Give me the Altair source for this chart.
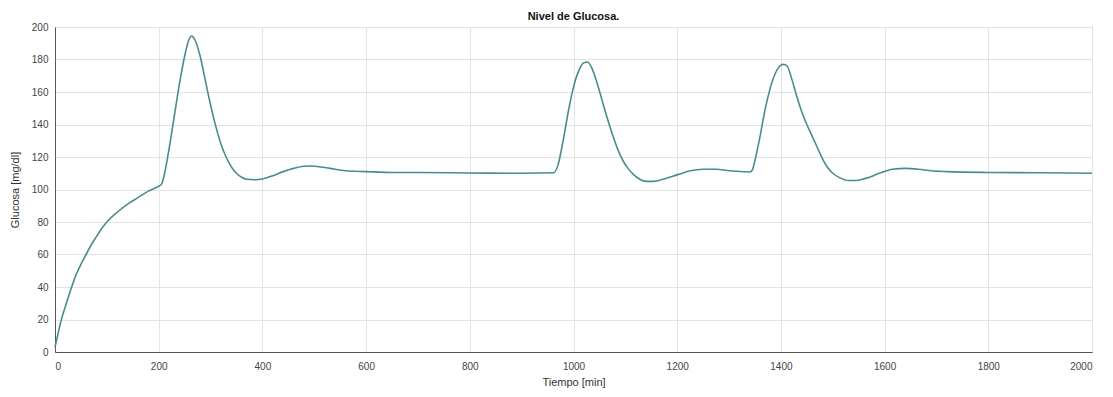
import altair as alt
import pandas as pd

tiempo = [0, 5, 10, 15, 20, 30, 40, 50, 60, 70, 80, 90, 100, 120, 140, 160, 180, 200,
          205, 210, 220, 230, 240, 250, 258, 263, 270, 280, 290, 300, 310, 320, 330, 340,
          350, 360, 370, 385, 400, 420, 440, 460, 480, 495, 510, 530, 560, 600, 650, 700,
          800, 900, 962,
          970, 980, 990, 1000, 1010, 1020, 1027, 1035, 1045, 1055, 1065, 1075, 1085, 1095,
          1105, 1115, 1127, 1140, 1155, 1175, 1200, 1225, 1250, 1275, 1300, 1340,
          1345, 1350, 1360, 1370, 1380, 1390, 1400, 1405, 1412, 1420, 1430, 1440, 1450,
          1460, 1470, 1480, 1490, 1500, 1515, 1530, 1545, 1565, 1590, 1615, 1640, 1665,
          1690, 1720, 1800, 1900, 2000]
glucosa = [3, 10, 17, 23, 28, 38, 47, 54, 60, 66, 71, 76, 80, 86, 91, 95, 99, 102,
           103, 108, 125, 145, 165, 182, 192, 194.5, 192, 182, 167, 152, 139, 128, 120, 114,
           110, 107.5, 106.3, 106, 106.5, 108.5, 111, 113, 114.3, 114.5, 114, 113, 111.5, 111, 110.5, 110.5,
           110.2, 110, 110.3,
           115, 130, 148, 163, 173, 178, 178.5, 175, 166, 155, 144, 134, 125, 118,
           113, 109.5, 106.5, 105, 105, 106.5, 109, 111.5, 112.5, 112.5, 111.5, 110.8,
           112, 118, 133, 150, 163, 172, 176.5, 177, 176, 169, 158, 148, 140,
           133, 126, 119, 113.5, 110, 107, 105.5, 105.5, 107, 110, 112.5, 113, 112.5,
           111.5, 111, 110.5, 110.3, 110]

x_ticks = [0, 200, 400, 600, 800, 1000, 1200, 1400, 1600, 1800, 2000]
y_ticks = [0, 20, 40, 60, 80, 100, 120, 140, 160, 180, 200]

df = pd.DataFrame({"t": tiempo, "g": glucosa})

FONT = "Liberation Sans"

line = alt.Chart(df).mark_line(color="#4a8c8c", strokeWidth=1.6, interpolate="monotone").encode(
    x=alt.X("t:Q", scale=alt.Scale(domain=[0, 2000], nice=False),
            axis=alt.Axis(values=x_ticks, title="Tiempo [min]", grid=True, format="d",
                          tickSize=0, labelPadding=9, titlePadding=5,
                          domainColor="#555555", gridColor="#e3e3e3")),
    y=alt.Y("g:Q", scale=alt.Scale(domain=[0, 200], nice=False),
            axis=alt.Axis(values=y_ticks, title="Glucosa [mg/dl]", grid=True, format="d",
                          tickSize=0, labelPadding=7, titlePadding=11,
                          domainColor="#555555", gridColor="#e3e3e3")),
)

chart = line.properties(
    width=1037, height=325,
    title=alt.TitleParams("Nivel de Glucosa.", fontSize=11, fontWeight="bold",
                          font=FONT, color="#111111", offset=0),
    autosize=alt.AutoSizeParams(type="none"),
    padding={"left": 47, "top": 19, "right": 8, "bottom": 36},
).configure_view(
    stroke="#555555", strokeWidth=1
).configure_axis(
    labelFont=FONT, titleFont=FONT, labelFontSize=10, titleFontSize=11,
    labelColor="#444444", titleColor="#333333", titleFontWeight="normal",
    domainWidth=1
)

chart.save("out.html", embed_options={"renderer": "svg", "actions": False})
